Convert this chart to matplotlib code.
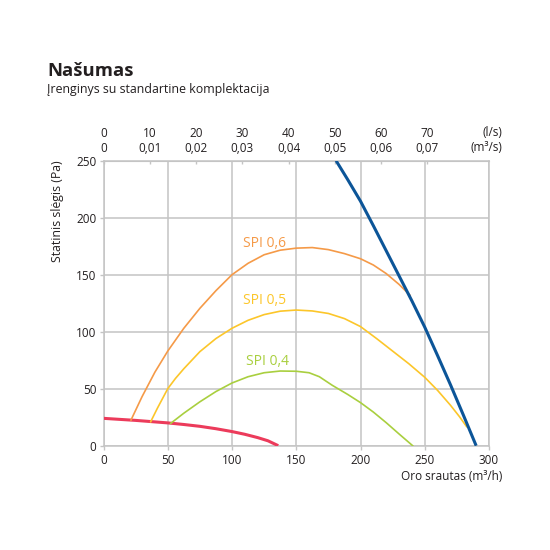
import matplotlib
matplotlib.use("Agg")
import matplotlib.pyplot as plt

plt.rcParams["font.family"] = ["Open Sans", "DejaVu Sans"]

# air flow (m3/h) -> static pressure (Pa)
FAN_X = [181, 190, 200, 210, 220, 230, 240, 250, 260, 270, 280, 290]
FAN_Y = [250, 233.5, 214.5, 193, 171, 149, 127, 104, 79, 53.5, 27, 0]

SPI06_X = [21.4, 30, 40, 50, 62.5, 75, 87.5, 100, 112.5, 125, 137.5, 150, 162.5,
           175, 187.5, 200, 210, 220, 230, 238.5]
SPI06_Y = [22.5, 43, 64.5, 83, 103, 120.5, 136, 150, 160, 167.5, 171.5, 173.3, 173.8,
           172, 168.5, 164, 158.5, 151, 141.5, 132]

SPI05_X = [36.7, 42, 50, 56, 62.5, 75, 87.5, 100, 112.5, 125, 137.5, 150, 162.5,
           175, 187.5, 200, 212.5, 225, 237.5, 250, 260, 270, 277, 282.6]
SPI05_Y = [21, 33, 50, 59, 67.5, 82.5, 94, 103, 110, 115, 118, 119, 118.2,
           116, 111.5, 104.5, 94, 83, 72, 60, 48.5, 35.5, 25.5, 16.7]

SPI04_X = [52.3, 62.5, 75, 87.5, 100, 112.5, 125, 137.5, 150, 160, 168, 178, 190,
           200, 210, 220, 230, 240.6]
SPI04_Y = [19.6, 28.5, 38.5, 47.5, 55, 60.5, 64, 65.5, 65.3, 64, 60.5, 53, 45,
           37.8, 29.5, 20.2, 10.3, 0]

SYS_X = [0, 25, 50, 62.5, 75, 87.5, 100, 110, 120, 128, 136]
SYS_Y = [24, 22.2, 20, 18.6, 17, 14.9, 12.4, 10, 7.1, 4.3, 0]

X_TICKS = [0, 50, 100, 150, 200, 250, 300]
Y_TICKS = [0, 50, 100, 150, 200, 250]
LS_TICKS = [0, 10, 20, 30, 40, 50, 60, 70]
LS_LABELS = ["0", "10", "20", "30", "40", "50", "60", "70"]
M3S_LABELS = ["0", "0,01", "0,02", "0,03", "0,04", "0,05", "0,06", "0,07"]

GRID = "#c4c4c4"
TXT = "#231f20"

fig = plt.figure(figsize=(5.5, 5.5), dpi=100)
ax = fig.add_axes([103.5 / 550, 1 - 445.7 / 550, 385.5 / 550, 285 / 550])

ax.plot(SYS_X, SYS_Y, color="#ec3b5b", lw=2.2, solid_capstyle="butt", zorder=3)
ax.plot(SPI06_X, SPI06_Y, color="#f59a48", lw=1.2, zorder=3)
ax.plot(SPI05_X, SPI05_Y, color="#fcc62a", lw=1.2, zorder=3)
ax.plot(SPI04_X, SPI04_Y, color="#a9cf3f", lw=1.2, zorder=3)
ax.plot(FAN_X, FAN_Y, color="#0c5598", lw=2.2, solid_capstyle="butt", zorder=4)

ax.text(108.3, 177.5, "SPI 0,6", color="#f59a48", fontsize=10, va="center")
ax.text(108.8, 127, "SPI 0,5", color="#fcc62a", fontsize=10, va="center")
ax.text(110.6, 73.7, "SPI 0,4", color="#a9cf3f", fontsize=10, va="center")

ax.set_xlim(0, 300)
ax.set_ylim(0, 250)
ax.set_xticks(X_TICKS)
ax.set_yticks(Y_TICKS)
ax.grid(True, color=GRID, lw=1.1)
ax.set_axisbelow(True)
for s in ax.spines.values():
    s.set_color(GRID)
    s.set_linewidth(1.1)
ax.tick_params(axis="both", colors=GRID, labelcolor=TXT, labelsize=8.5,
               length=3, width=1)
ax.tick_params(axis="x", pad=3)
ax.tick_params(axis="y", pad=2)

to_ls = (lambda v: v / 3.6, lambda v: v * 3.6)
top1 = ax.secondary_xaxis("top", functions=to_ls)
top1.set_xticks(LS_TICKS)
top1.set_xticklabels(M3S_LABELS)
top1.tick_params(direction="in", length=2.5, width=1, colors=GRID,
                 labelcolor=TXT, labelsize=8.5, pad=4.2)
top1.spines["top"].set_color(GRID)

top2 = ax.secondary_xaxis("top", functions=to_ls)
top2.set_xticks(LS_TICKS)
top2.set_xticklabels(LS_LABELS)
top2.tick_params(length=0, labelcolor=TXT, labelsize=8.5, pad=15)
top2.spines["top"].set_visible(False)

fig.text(502 / 550, 1 - 132.7 / 550, "(l/s)", ha="right", va="center", fontsize=8.5, color=TXT)
fig.text(502 / 550, 1 - 147.3 / 550, "(m\u00b3/s)", ha="right", va="center", fontsize=8.5, color=TXT)
fig.text(502 / 550, 1 - 477 / 550, "Oro srautas (m\u00b3/h)", ha="right", va="center", fontsize=8.5, color=TXT)
fig.text(58 / 550, 1 - 160 / 550, "Statinis sl\u0117gis (Pa)", rotation=90, ha="center", va="top",
         fontsize=8.8, color=TXT)

fig.text(47 / 550, 1 - 70.7 / 550, "Na\u0161umas", fontsize=13.3, fontweight="bold", va="center", color=TXT)
fig.text(47 / 550, 1 - 89 / 550, "\u012erenginys su standartine komplektacija", fontsize=8.9, va="center", color=TXT)

fig.savefig("out.png", dpi=100)
